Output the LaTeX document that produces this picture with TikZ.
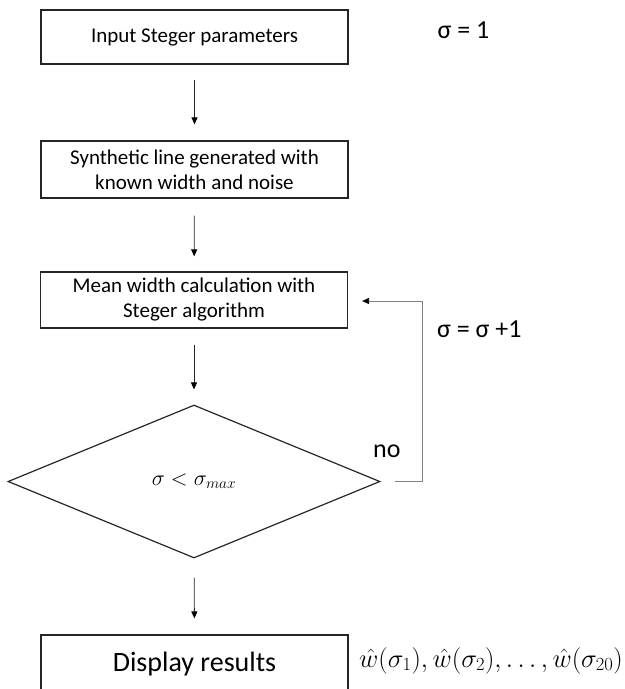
\documentclass[tikz,border=0pt]{standalone}
\usepackage{fix-cm}
\usepackage{fontspec}
\setmainfont{Carlito}
\usetikzlibrary{shapes.geometric,arrows.meta}
\begin{document}
\begin{tikzpicture}[x=1bp,y=-1bp,
  box/.style={draw=black!85, line width=1.2bp, minimum width=307bp, inner sep=0pt, align=center,
    font=\fontsize{21bp}{25bp}\selectfont},
  dec/.style={shape=diamond, draw=black!85, line width=1.2bp, minimum width=372bp, minimum height=153bp,
    inner sep=0pt, font=\fontsize{22bp}{26bp}\selectfont},
  tip/.style={-{Triangle[length=7bp,width=6bp,color=black]}},
  flow/.style={draw=black!85, line width=0.8bp, tip},
  loopline/.style={draw=black!50, line width=0.8bp, tip},
  lab/.style={inner sep=0pt, font=\fontsize{26bp}{30bp}\selectfont}]
\useasboundingbox (0,0) rectangle (625,689);
\clip (0,0) rectangle (625,689);
\node[box, minimum height=54bp] (b1) at (194.5,37) {Input Steger parameters};
\node[box, minimum height=57bp] (b2) at (194.5,169.5) {Synthetic line generated with\\known width and noise};
\node[box, minimum height=56bp] (b3) at (194,300) {Mean width calculation with\\Steger algorithm};
\node[dec] (d) at (194,481.5) {$\sigma<\sigma_{max}$};
\node[box, minimum height=58bp, font=\fontsize{28bp}{32bp}\selectfont] (b4) at (194.5,664) {Display results};
\draw[flow, shorten <=15bp, shorten >=16bp] (b1) -- (b2);
\draw[flow, shorten <=17bp, shorten >=15bp] (b2) -- (b3);
\draw[flow, shorten <=16bp, shorten >=15bp] (b3) -- (d);
\draw[flow, shorten <=19bp, shorten >=16bp] (d) -- (b4);
\coordinate (c2) at (422,301);
\draw[loopline, shorten >=14bp] ([xshift=14bp]d.east) -| (c2) -- (b3.east |- c2);
\node[lab, anchor=base] (s1) at (463.5,39) {σ = 1};
\node[lab, anchor=base west] (s2) at (437,337) {σ = σ +1};
\node[lab, anchor=base west] (no) at (373,457) {no};
\node[anchor=base west, inner sep=0pt, font=\fontsize{26.5bp}{30bp}\selectfont] (res) at (359,667)
  {$\hat{w}(\sigma_1),\hat{w}(\sigma_2),\dots,\hat{w}(\sigma_{20})$};
\end{tikzpicture}
\end{document}
